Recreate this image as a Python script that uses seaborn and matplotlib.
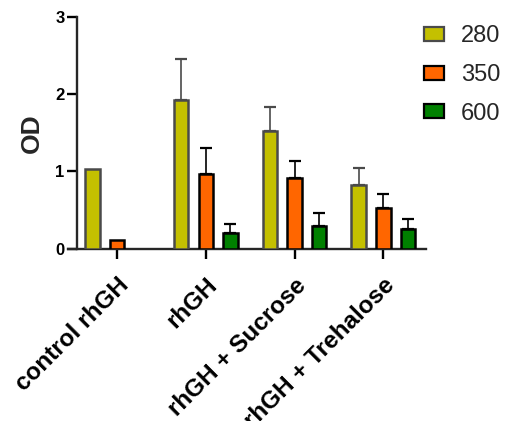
import numpy as np
import pandas as pd
import matplotlib
matplotlib.use("Agg")
import matplotlib.pyplot as plt
import seaborn as sns

# data
groups = ["control rhGH", "rhGH", "rhGH + Sucrose", "rhGH + Trehalose"]
wavelengths = ["280", "350", "600"]
od_280 = [1.03, 1.92, 1.53, 0.82]
od_350 = [0.12, 0.97, 0.92, 0.53]
od_600 = [np.nan, 0.20, 0.30, 0.25]
sd_280 = [0.0, 0.54, 0.31, 0.23]
sd_350 = [0.0, 0.33, 0.22, 0.18]
sd_600 = [np.nan, 0.12, 0.16, 0.13]

colors = {"280": "#C4C000", "350": "#FF6600", "600": "#008000"}
edges = {"280": "#4a4a4a", "350": "#000000", "600": "#000000"}

rows = []
for wl, vals, sds in zip(wavelengths, [od_280, od_350, od_600], [sd_280, sd_350, sd_600]):
    for g, v, s in zip(groups, vals, sds):
        rows.append({"group": g, "wl": wl, "od": v, "sd": s})
df = pd.DataFrame(rows)

sns.set_style("ticks")
plt.rcParams["font.family"] = ["Liberation Sans", "DejaVu Sans"]
plt.rcParams["font.weight"] = "bold"

fig = plt.figure(figsize=(5.07, 4.21), dpi=100)
ax = fig.add_axes([0.134, 0.409, 0.706, 0.551])

sns.barplot(data=df, x="group", y="od", hue="wl", order=groups, hue_order=wavelengths,
            palette=colors, errorbar=None, width=0.83, gap=0.41, ax=ax,
            linewidth=1.8, saturation=1)

# edge colours and upper-only error bars
for wl, cont in zip(wavelengths, ax.containers):
    for bar in cont:
        bar.set_edgecolor(edges[wl])
        bar.set_zorder(3)
        xc = bar.get_x() + bar.get_width() / 2
        idx = int(round(xc))
        sub = df[(df.wl == wl) & (df.group == groups[idx])]
        s = sub.sd.values[0]
        h = bar.get_height()
        if np.isnan(h) or np.isnan(s) or s <= 0:
            continue
        ax.errorbar(xc, h, yerr=[[0], [s]], fmt="none", ecolor=edges[wl],
                    elinewidth=1.2, capsize=4, capthick=1.6, zorder=2)

ax.set_ylim(0, 3)
ax.set_yticks([0, 1, 2, 3])
ax.set_xlim(-0.553, 3.48)
ax.spines["top"].set_visible(False)
ax.spines["right"].set_visible(False)
ax.spines["left"].set_position(("data", -0.45))
for sp in ["left", "bottom"]:
    ax.spines[sp].set_linewidth(1.7)
ax.tick_params(axis="both", width=1.7, length=7, colors="black")
ax.tick_params(axis="y", labelsize=12, pad=2)
ax.tick_params(axis="x", pad=11)
ax.set_xlabel("")
ax.set_ylabel("OD", fontsize=19, fontweight="bold", labelpad=8)
ax.set_xticks(range(len(groups)))
ax.set_xticklabels(groups, rotation=45, ha="right", rotation_mode="anchor",
                   fontsize=17.5, fontweight="bold")
for lab in ax.get_yticklabels():
    lab.set_fontweight("bold")
    lab.set_fontsize(12)

handles, labels = ax.get_legend_handles_labels()
for hnd, wl in zip(handles, wavelengths):
    hnd.set_edgecolor(edges[wl])
    hnd.set_linewidth(1.6)
ax.legend(handles, labels, loc="upper left", bbox_to_anchor=(0.795, 0.99),
          bbox_transform=fig.transFigure, frameon=False,
          handlelength=0.85, handleheight=0.55, labelspacing=0.7, handletextpad=0.7,
          prop={"weight": "normal", "size": 17})

fig.savefig("out.png", dpi=100)
